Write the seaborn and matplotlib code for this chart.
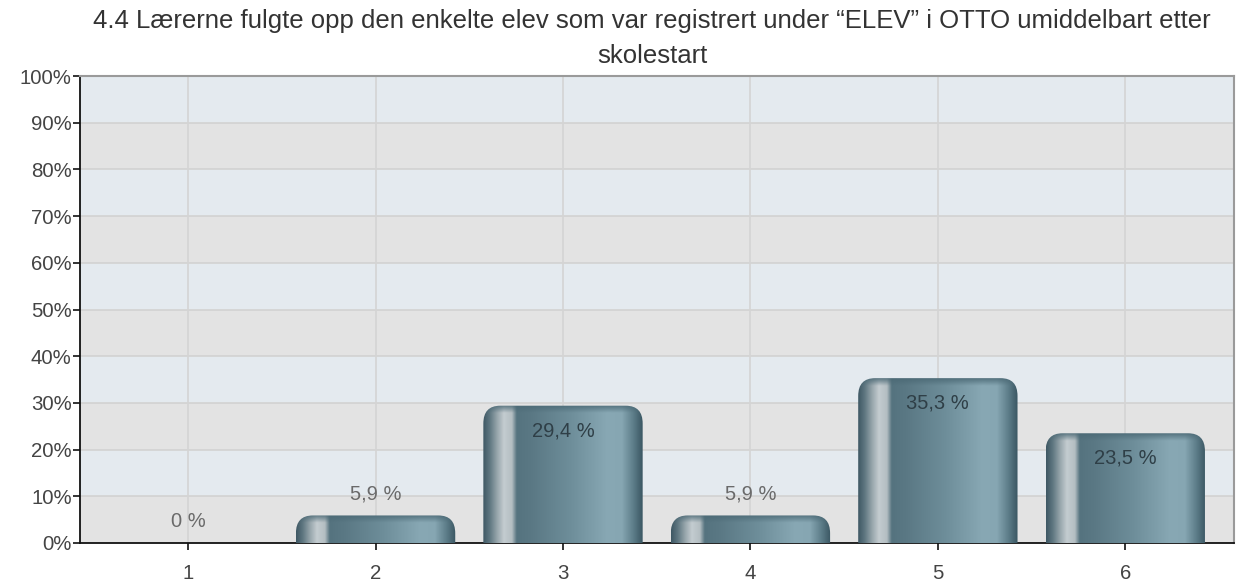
import numpy as np
import matplotlib
matplotlib.use("Agg")
import matplotlib.pyplot as plt
from matplotlib.patches import FancyBboxPatch
from matplotlib.colors import to_rgb
import seaborn as sns

categories = ["1", "2", "3", "4", "5", "6"]
values = [0.0, 5.9, 29.4, 5.9, 35.3, 23.5]
value_labels = ["0 %", "5,9 %", "29,4 %", "5,9 %", "35,3 %", "23,5 %"]
yticks = [0, 10, 20, 30, 40, 50, 60, 70, 80, 90, 100]
ytick_labels = [f"{t}%" for t in yticks]
title = "4.4 Lærerne fulgte opp den enkelte elev som var registrert under \u201cELEV\u201d i OTTO umiddelbart etter\nskolestart"

sns.set_theme(style="white")
plt.rcParams["font.family"] = ["Liberation Sans", "DejaVu Sans"]

fig = plt.figure(figsize=(12.37, 5.81), dpi=100)
ax = fig.add_axes([80 / 1237, 1 - 543 / 581, (1234 - 80) / 1237, (543 - 76) / 581])

# background bands
for i, y0 in enumerate(range(0, 100, 10)):
    ax.axhspan(y0, y0 + 10, color="#e3e3e3" if i % 2 == 0 else "#e4eaef", zorder=0, lw=0)

sns.barplot(x=categories, y=values, width=0.85, ax=ax, color="#5e7e8a", zorder=2)

ax.set_xlim(-0.577, 5.58)
ax.set_ylim(0, 100)
ax.set_yticks(yticks)
ax.set_yticklabels(ytick_labels)
ax.set_xlabel("")
ax.set_ylabel("")

for y in yticks[1:-1]:
    ax.axhline(y, color="#d2d2d2", lw=1.2, zorder=1)
for x in range(len(categories)):
    ax.axvline(x, color="#d4d4d4", lw=1.2, zorder=1)

# horizontal gradient of the cylinder bars
stops = [(0.0, "#3e5864"), (0.04, "#5e7680"), (0.09, "#9aa8ae"), (0.13, "#c4ccd0"),
         (0.18, "#b4bec2"), (0.21, "#55737f"), (0.30, "#5a7884"), (0.55, "#6e8e9a"),
         (0.78, "#88a8b4"), (0.87, "#86a6b2"), (0.94, "#5e7e8a"), (1.0, "#3a5662")]
pos = np.array([s[0] for s in stops])
cols = np.array([to_rgb(s[1]) for s in stops])
ncol = 300
xs = np.linspace(0, 1, ncol)
grad = np.stack([np.interp(xs, pos, cols[:, k]) for k in range(3)], axis=-1)
cap_col = np.array(to_rgb("#4b6975"))

rx = 0.09
ry = 3.8
bars = list(ax.containers[0])
for patch, v in zip(bars, values):
    x0 = patch.get_x()
    w = patch.get_width()
    h = patch.get_height()
    patch.set_visible(False)
    if h <= 0:
        continue
    shape = FancyBboxPatch((x0, -ry * 2), w, h + ry * 2,
                           boxstyle=f"round,pad=0,rounding_size={rx}",
                           mutation_aspect=ry / rx, facecolor="none",
                           edgecolor="none", transform=ax.transData, zorder=2)
    ax.add_patch(shape)
    nrow = 200
    ys = np.linspace(0, h, nrow)[:, None]
    cap = 1.6
    blend = np.clip((ys - (h - cap)) / cap, 0, 1)[..., None] * 0.85
    img = grad[None, :, :] * (1 - blend) + cap_col[None, None, :] * blend
    im = ax.imshow(img, extent=(x0, x0 + w, 0, h), origin="lower",
                   aspect="auto", zorder=3, interpolation="bilinear")
    im.set_clip_path(shape)

ax.set_aspect("auto")
ax.set_xlim(-0.577, 5.58)
ax.set_ylim(0, 100)

for i, (v, lab) in enumerate(zip(values, value_labels)):
    if v > 15:
        ax.text(i, v - 5.4, lab, ha="center", va="center", fontsize=14.5,
                color="#2f3f47", zorder=5)
    else:
        ax.text(i, v + 4.5, lab, ha="center", va="center", fontsize=14.5,
                color="#6a6a6a", zorder=5)

for side in ["left", "bottom"]:
    ax.spines[side].set_color("#111111")
    ax.spines[side].set_linewidth(1.3)
for side in ["top", "right"]:
    ax.spines[side].set_color("#9a9a9a")
    ax.spines[side].set_linewidth(1.5)

ax.tick_params(axis="both", which="both", direction="out", length=5, width=1.2,
               color="#111111", labelsize=14.7, labelcolor="#444444",
               left=True, bottom=True)
ax.tick_params(axis="y", pad=1)
ax.tick_params(axis="x", pad=10)

fig.text((80 + 1234) / 2 / 1237 - 5 / 1237, 1 - 38.5 / 581, title, ha="center", va="center",
         fontsize=18.5, color="#333333", linespacing=1.6)

fig.savefig("out.png", dpi=100, facecolor="white")
